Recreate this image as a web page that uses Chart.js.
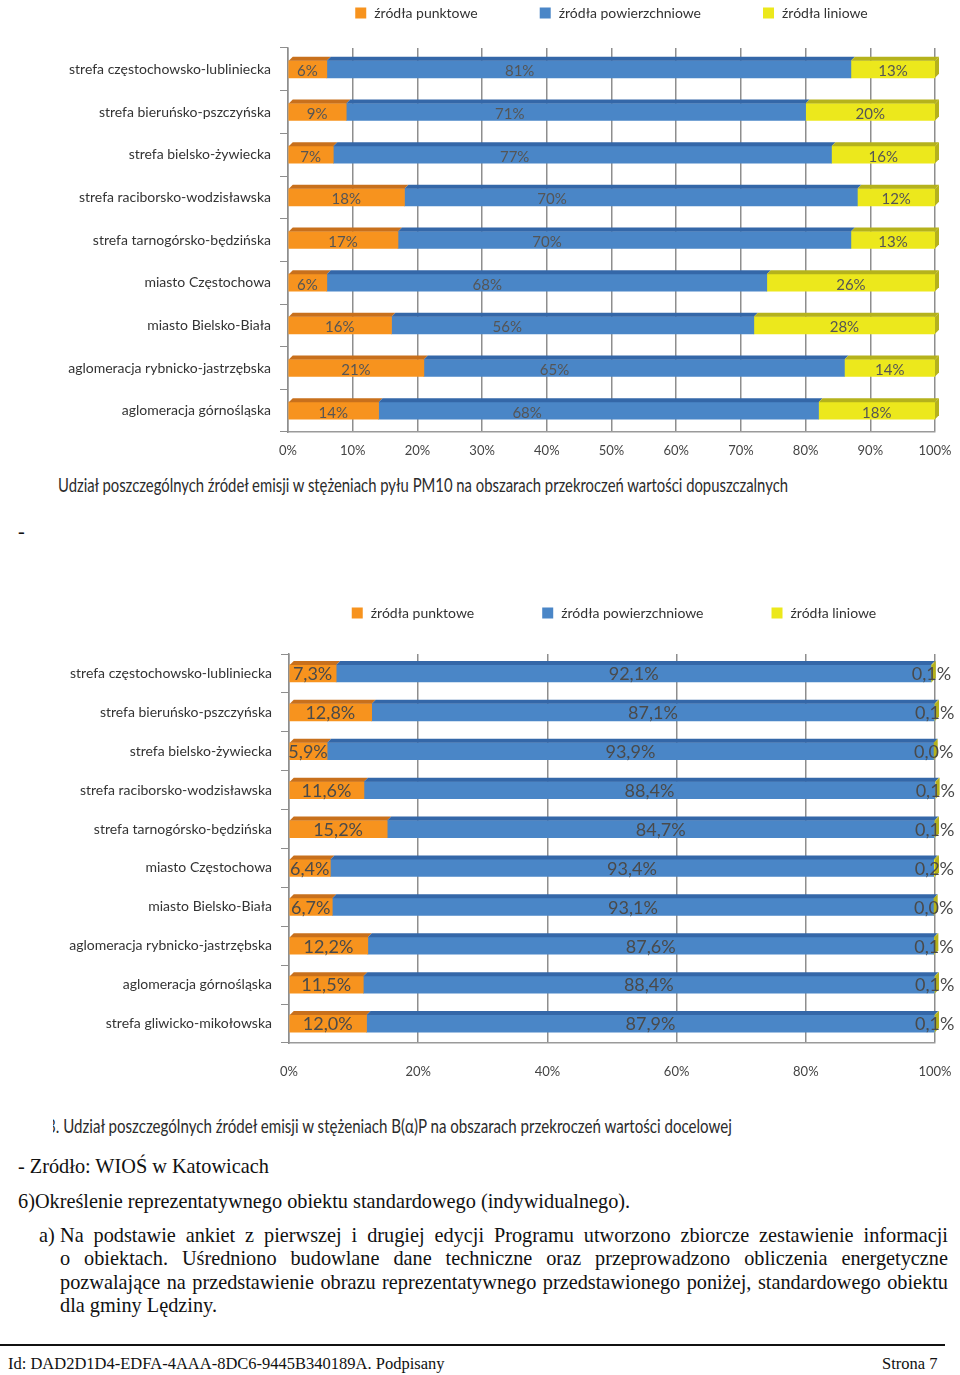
<!DOCTYPE html>
<html lang="pl">
<head>
<meta charset="utf-8">
<title>Udział źródeł emisji</title>
<script src="https://cdn.jsdelivr.net/npm/chart.js@4.4.1/dist/chart.umd.min.js"></script>
<style>
  html, body { margin: 0; padding: 0; background: #fff; }
  body { position: relative; width: 960px; height: 1375px; overflow: hidden; }
  .box { position: absolute; }
  .caption { position: absolute; white-space: nowrap; font-family: Lato, "Open Sans", sans-serif; color: #2b2b2b; transform-origin: 0 0; }
  .doc { position: absolute; font-family: "Liberation Serif", "DejaVu Serif", serif; color: #111; font-size: 20.3px; white-space: nowrap; }
  .para { position: absolute; left: 60px; top: 1224px; width: 888px; font-family: "Liberation Serif", serif; font-size: 20.3px; line-height: 23.4px; text-align: justify; color: #111; }
  .rule { position: absolute; left: 0; top: 1344px; width: 945px; height: 2px; background: #111; }
</style>
</head>
<body>

<div class="box" style="left:55px; top:0; width:905px; height:470px;"><canvas id="pm10Chart"></canvas></div>
<div class="caption" id="cap1" style="left:58px; top:472px; font-size:20px;">Udział poszczególnych źródeł emisji w stężeniach pyłu PM10 na obszarach przekroczeń wartości dopuszczalnych</div>

<div class="doc" style="left:18px; top:520px;">-</div>

<div class="box" style="left:55px; top:600px; width:905px; height:490px;"><canvas id="bapChart"></canvas></div>
<div style="position:absolute; left:53px; top:1110px; width:720px; height:34px; overflow:hidden;">
  <div class="caption" id="cap2" style="left:-6px; top:3px; font-size:20px;">3. Udział poszczególnych źródeł emisji w stężeniach B(α)P na obszarach przekroczeń wartości docelowej</div>
</div>

<div class="doc" style="left:18px; top:1155px;">- Zródło: WIOŚ w Katowicach</div>
<div class="doc" style="left:18px; top:1190px;">6)Określenie reprezentatywnego obiektu standardowego (indywidualnego).</div>
<div class="doc" style="left:39px; top:1224px;">a)</div>
<div class="para">Na podstawie ankiet z&nbsp;pierwszej i&nbsp;drugiej edycji Programu utworzono zbiorcze zestawienie informacji o&nbsp;obiektach. Uśredniono budowlane dane techniczne oraz przeprowadzono obliczenia energetyczne pozwalające na przedstawienie obrazu reprezentatywnego przedstawionego poniżej, standardowego obiektu dla gminy Lędziny.</div>
<div class="rule"></div>
<div class="doc" style="left:8px; top:1354px; font-size:16.5px;">Id: DAD2D1D4-EDFA-4AAA-8DC6-9445B340189A. Podpisany</div>
<div class="doc" style="left:882px; top:1354px; font-size:16.5px;">Strona 7</div>

<script>
// --- data -------------------------------------------------------------
const seriesNames = ["źródła punktowe", "źródła powierzchniowe", "źródła liniowe"];

const pm10Areas = [
  "strefa częstochowsko-lubliniecka",
  "strefa bieruńsko-pszczyńska",
  "strefa bielsko-żywiecka",
  "strefa raciborsko-wodzisławska",
  "strefa tarnogórsko-będzińska",
  "miasto Częstochowa",
  "miasto Bielsko-Biała",
  "aglomeracja rybnicko-jastrzębska",
  "aglomeracja górnośląska"
];
const pm10Point   = [6, 9, 7, 18, 17, 6, 16, 21, 14];
const pm10Surface = [81, 71, 77, 70, 70, 68, 56, 65, 68];
const pm10Line    = [13, 20, 16, 12, 13, 26, 28, 14, 18];
const pm10Ticks   = [0, 10, 20, 30, 40, 50, 60, 70, 80, 90, 100];

const bapAreas = [
  "strefa częstochowsko-lubliniecka",
  "strefa bieruńsko-pszczyńska",
  "strefa bielsko-żywiecka",
  "strefa raciborsko-wodzisławska",
  "strefa tarnogórsko-będzińska",
  "miasto Częstochowa",
  "miasto Bielsko-Biała",
  "aglomeracja rybnicko-jastrzębska",
  "aglomeracja górnośląska",
  "strefa gliwicko-mikołowska"
];
const bapPoint   = [7.3, 12.8, 5.9, 11.6, 15.2, 6.4, 6.7, 12.2, 11.5, 12.0];
const bapSurface = [92.1, 87.1, 93.9, 88.4, 84.7, 93.4, 93.1, 87.6, 88.4, 87.9];
const bapLine    = [0.1, 0.1, 0.0, 0.1, 0.1, 0.2, 0.0, 0.1, 0.1, 0.1];
const bapTicks   = [0, 20, 40, 60, 80, 100];

const colors    = ["#f7931e", "#4a86c7", "#ece81c"];
const topColors = ["#c8701c", "#3467a8", "#b5b21c"];

// --- plugins ------------------------------------------------------------
const DEPTH = 4;

// fake 3D: darker top face on every segment, side face at the end of the bar
const bar3d = {
  id: "bar3d",
  afterDatasetsDraw(chart) {
    const ctx = chart.ctx;
    const n = chart.data.datasets.length;
    ctx.save();
    chart.data.datasets.forEach((ds, i) => {
      chart.getDatasetMeta(i).data.forEach(bar => {
        const p = bar.getProps(["x", "y", "base", "height"], true);
        const top = p.y - p.height / 2, bottom = p.y + p.height / 2;
        const x0 = Math.min(p.base, p.x), x1 = Math.max(p.base, p.x);
        ctx.fillStyle = topColors[i];
        ctx.beginPath();
        ctx.moveTo(x0, top);
        ctx.lineTo(x0 + DEPTH, top - DEPTH);
        ctx.lineTo(x1 + DEPTH, top - DEPTH);
        ctx.lineTo(x1, top);
        ctx.closePath();
        ctx.fill();
        if (i === n - 1) {
          ctx.beginPath();
          ctx.moveTo(x1, top);
          ctx.lineTo(x1 + DEPTH, top - DEPTH);
          ctx.lineTo(x1 + DEPTH, bottom - DEPTH);
          ctx.lineTo(x1, bottom);
          ctx.closePath();
          ctx.fill();
        }
      });
    });
    ctx.restore();
  }
};

// value labels inside the segments
const segLabels = {
  id: "segLabels",
  afterDatasetsDraw(chart, args, opts) {
    const ctx = chart.ctx;
    const xs = chart.scales.x;
    ctx.save();
    ctx.font = opts.font;
    ctx.fillStyle = opts.color;
    ctx.textAlign = "center";
    ctx.textBaseline = "middle";
    chart.data.labels.forEach((_, j) => {
      let start = 0;
      chart.data.datasets.forEach((ds, i) => {
        const v = ds.data[j];
        let mid = start + v / 2;
        if (opts.pull && opts.pull[i]) mid *= opts.pull[i];
        const bar = chart.getDatasetMeta(i).data[j];
        ctx.fillText(opts.format(v), xs.getPixelForValue(mid), bar.y + (opts.dy || 0));
        start += v;
      });
    });
    ctx.restore();
  }
};

// legend centred over the plot area
const areaLegend = {
  id: "areaLegend",
  afterDraw(chart, args, opts) {
    const ctx = chart.ctx;
    const area = chart.chartArea;
    ctx.save();
    ctx.font = opts.font;
    ctx.textBaseline = "middle";
    const items = chart.data.datasets.map(ds => ({
      text: ds.label,
      color: ds.backgroundColor,
      w: opts.box + opts.boxGap + ctx.measureText(ds.label).width
    }));
    const total = items.reduce((s, it) => s + it.w, 0) + opts.gap * (items.length - 1);
    let x = (area.left + area.right) / 2 - total / 2 + (opts.shift || 0);
    items.forEach(it => {
      ctx.fillStyle = it.color;
      ctx.fillRect(x, opts.y - opts.box / 2, opts.box, opts.box);
      ctx.fillStyle = opts.color;
      ctx.fillText(it.text, x + opts.box + opts.boxGap, opts.y);
      x += it.w + opts.gap;
    });
    ctx.restore();
  }
};

function makeChart(id, labels, point, surface, line, ticks, cfg) {
  return new Chart(document.getElementById(id), {
    type: "bar",
    data: {
      labels: labels,
      datasets: [point, surface, line].map((d, i) => ({
        label: seriesNames[i],
        data: d,
        backgroundColor: colors[i],
        borderWidth: 0,
        barThickness: 17
      }))
    },
    options: {
      indexAxis: "y",
      responsive: true,
      maintainAspectRatio: false,
      animation: false,
      layout: { padding: { top: cfg.padTop, right: 25, bottom: cfg.padBottom, left: 0 } },
      scales: {
        x: {
          stacked: true,
          min: 0,
          max: 100,
          afterBuildTicks: s => { s.ticks = ticks.map(v => ({ value: v })); },
          afterFit: s => { s.height = cfg.xHeight; s.paddingLeft = 0; s.paddingRight = 0; },
          grid: { color: "#8e8e8e", lineWidth: 1.5, drawTicks: false },
          border: { display: true, color: "#9a9a9a", width: 1.5 },
          ticks: {
            padding: cfg.xPad,
            color: "#444",
            font: { family: "Lato", size: 13 },
            callback: v => v + "%"
          }
        },
        y: {
          stacked: true,
          afterFit: s => { s.width = cfg.yWidth; },
          grid: { drawOnChartArea: false, drawTicks: true, tickLength: 8, color: "#8e8e8e" },
          border: { display: true, color: "#8e8e8e", width: 1.5 },
          ticks: { padding: 9, color: "#333", font: { family: "Lato", size: 14 } }
        }
      },
      plugins: {
        legend: { display: false },
        tooltip: { enabled: false },
        areaLegend: { y: cfg.legendY, box: 11, boxGap: 8, gap: cfg.legendGap, shift: cfg.legendShift, font: "14px Lato", color: "#333" },
        segLabels: cfg.labels
      }
    },
    plugins: [bar3d, segLabels, areaLegend]
  });
}

makeChart("pm10Chart", pm10Areas, pm10Point, pm10Surface, pm10Line, pm10Ticks, {
  padTop: 48, padBottom: 8, xHeight: 30, xPad: 11, yWidth: 233, legendY: 13, legendGap: 62, legendShift: 0,
  labels: { font: "15px Lato", color: "#555", dy: 2, pull: [0, 0.77, 0], format: v => v + "%" }
});

makeChart("bapChart", bapAreas, bapPoint, bapSurface, bapLine, bapTicks, {
  padTop: 54, padBottom: 7, xHeight: 40, xPad: 21, yWidth: 234, legendY: 13, legendGap: 68, legendShift: 2,
  labels: { font: "18px Lato", color: "#4a4a4a", dy: 1, format: v => v.toFixed(1).replace(".", ",") + "%" }
});

// squeeze captions to the width of the condensed original font
function fitWidth(id, width) {
  const el = document.getElementById(id);
  el.style.transform = "scaleX(" + (width / el.scrollWidth) + ")";
}
fitWidth("cap1", 730);
fitWidth("cap2", 685);
</script>
</body>
</html>
